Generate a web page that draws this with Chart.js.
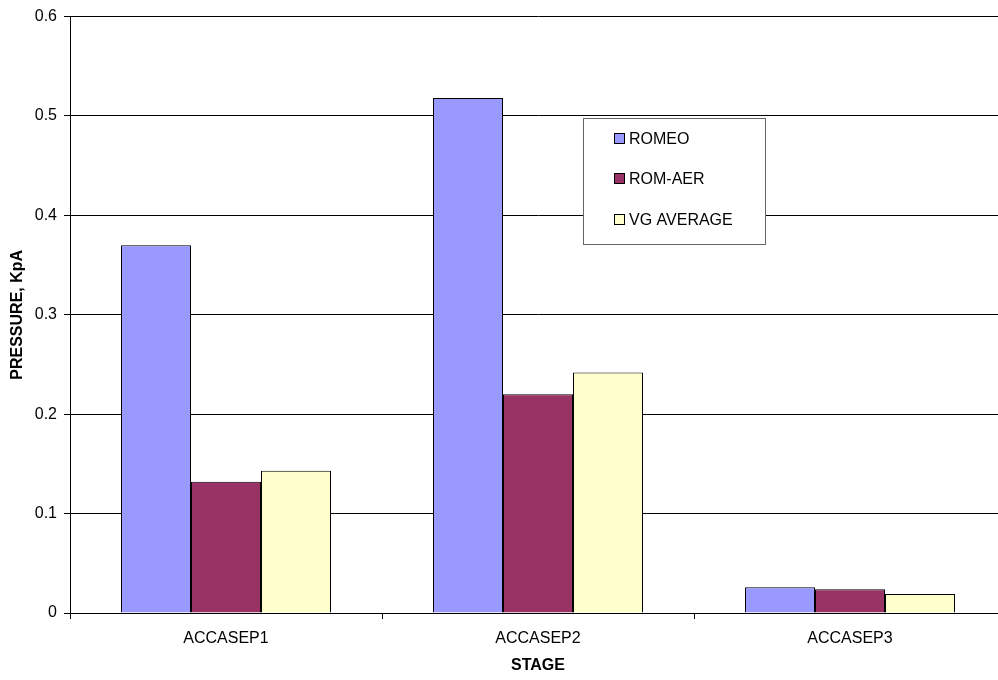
<!DOCTYPE html>
<html>
<head>
<meta charset="utf-8">
<script src="https://cdn.jsdelivr.net/npm/chart.js@4"></script>
<style>
  html, body { margin: 0; padding: 0; background: #fff; overflow: hidden; }
  #wrap { width: 1010px; height: 680px; }
</style>
</head>
<body>
<div id="wrap"><canvas id="chart" width="1010" height="680"></canvas></div>
<script>
const stages = ['ACCASEP1', 'ACCASEP2', 'ACCASEP3'];
const romeo = [0.37, 0.518, 0.026];
const romAer = [0.132, 0.22, 0.024];
const vgAverage = [0.143, 0.242, 0.019];
const yTicks = [0, 0.1, 0.2, 0.3, 0.4, 0.5, 0.6];

const FONT = "'Liberation Sans', Arial, sans-serif";

// Legend box inside the plot, like the Excel original
const boxLegend = {
  id: 'boxLegend',
  afterDatasetsDraw(chart) {
    const ctx = chart.ctx;
    const x = 583.5, y = 118.5, w = 182, h = 126;
    ctx.save();
    ctx.fillStyle = '#fff';
    ctx.fillRect(x, y, w, h);
    ctx.strokeStyle = '#666';
    ctx.lineWidth = 1;
    ctx.strokeRect(x, y, w, h);
    ctx.font = '16px ' + FONT;
    ctx.textBaseline = 'middle';
    const rows = [139, 179, 220];
    chart.data.datasets.forEach((ds, i) => {
      ctx.fillStyle = ds.backgroundColor;
      ctx.fillRect(614.5, rows[i] - 5.5, 10, 10);
      ctx.strokeStyle = '#000';
      ctx.strokeRect(614.5, rows[i] - 5.5, 10, 10);
      ctx.fillStyle = '#000';
      ctx.fillText(ds.label, 629, rows[i] + 1);
    });
    ctx.restore();
  }
};

new Chart(document.getElementById('chart'), {
  type: 'bar',
  data: {
    labels: stages,
    datasets: [
      { label: 'ROMEO', data: romeo, backgroundColor: '#9999FF' },
      { label: 'ROM-AER', data: romAer, backgroundColor: '#993366' },
      { label: 'VG AVERAGE', data: vgAverage, backgroundColor: '#FFFFCC' }
    ].map(ds => Object.assign(ds, {
      borderColor: '#000',
      borderWidth: 1,
      barPercentage: 1,
      categoryPercentage: 0.673
    }))
  },
  options: {
    responsive: false,
    animation: false,
    layout: { padding: { top: 15, right: 4, left: 0, bottom: 0 } },
    plugins: {
      legend: { display: false },
      tooltip: { enabled: false }
    },
    scales: {
      x: {
        offset: true,
        afterFit(scale) { scale.height = 67; },
        grid: {
          offset: true,
          drawOnChartArea: false,
          tickLength: 6,
          tickColor: '#000'
        },
        border: { color: '#000', width: 1 },
        ticks: { color: '#000', font: { family: FONT, size: 16 }, padding: 10 },
        title: {
          display: true,
          text: 'STAGE',
          color: '#000',
          font: { family: FONT, size: 16, weight: 'bold' },
          padding: { top: 0, bottom: 5 }
        }
      },
      y: {
        min: 0,
        max: 0.6,
        afterFit(scale) { scale.width = 70; },
        afterBuildTicks(scale) { scale.ticks = yTicks.map(v => ({ value: v })); },
        grid: { color: '#000', lineWidth: 1, tickLength: 6, tickColor: '#000' },
        border: { color: '#000', width: 1 },
        ticks: {
          color: '#000',
          font: { family: FONT, size: 16 },
          padding: 7,
          callback: v => String(+v.toFixed(1))
        },
        title: {
          display: true,
          text: 'PRESSURE, KpA',
          color: '#000',
          font: { family: FONT, size: 16, weight: 'bold' },
          padding: { top: 8, bottom: 0 }
        }
      }
    }
  },
  plugins: [boxLegend]
});
</script>
</body>
</html>
